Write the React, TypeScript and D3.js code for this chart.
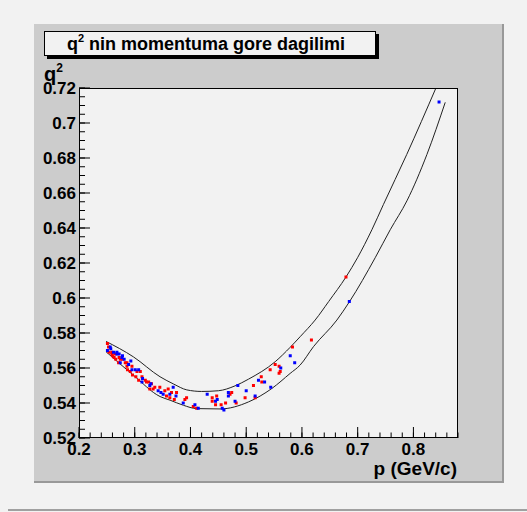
import React from "react";
import * as d3 from "d3";

// upper and lower boundary curves: [p, q2]
const upperCurve: [number, number][] = [
  [0.2485, 0.5752], [0.2975, 0.5664], [0.3454, 0.555], [0.37, 0.5508],
  [0.3934, 0.5475], [0.42, 0.5466], [0.45, 0.547], [0.48, 0.5498],
  [0.504, 0.5536], [0.552, 0.5636], [0.5788, 0.5718], [0.5968, 0.5779],
  [0.6237, 0.5874], [0.648, 0.598], [0.679, 0.612], [0.6997, 0.623],
  [0.7255, 0.639], [0.7463, 0.6535], [0.788, 0.682], [0.8404, 0.72],
];
const lowerCurve: [number, number][] = [
  [0.2485, 0.5693], [0.2975, 0.5559], [0.3454, 0.5437], [0.3634, 0.5416],
  [0.3873, 0.5387], [0.411, 0.5368], [0.453, 0.5366], [0.504, 0.5406],
  [0.546, 0.5483], [0.5788, 0.5569], [0.5968, 0.5617], [0.6207, 0.5722],
  [0.6627, 0.5874], [0.6853, 0.5979], [0.7314, 0.623], [0.7584, 0.639],
  [0.7883, 0.6555], [0.8242, 0.682], [0.8571, 0.7118],
];

const redPoints: [number, number][] = [
  [0.253, 0.572], [0.254, 0.569], [0.259, 0.568], [0.26, 0.567], [0.263, 0.566],
  [0.266, 0.565], [0.274, 0.565], [0.278, 0.565], [0.271, 0.563], [0.283, 0.563],
  [0.286, 0.561], [0.287, 0.559], [0.292, 0.558], [0.296, 0.556], [0.302, 0.555],
  [0.307, 0.553], [0.31, 0.558], [0.313, 0.555], [0.319, 0.553], [0.325, 0.552],
  [0.327, 0.548], [0.33, 0.551], [0.336, 0.549], [0.345, 0.549], [0.354, 0.547],
  [0.357, 0.544], [0.36, 0.548], [0.366, 0.546], [0.363, 0.543], [0.371, 0.542],
  [0.375, 0.546], [0.39, 0.542], [0.393, 0.543], [0.405, 0.538], [0.411, 0.537],
  [0.251, 0.574], [0.259, 0.569], [0.265, 0.568], [0.272, 0.566], [0.286, 0.563],
  [0.295, 0.561], [0.304, 0.558], [0.321, 0.552], [0.333, 0.548],
  [0.439, 0.543], [0.447, 0.544], [0.439, 0.541], [0.445, 0.539], [0.455, 0.539],
  [0.463, 0.54], [0.471, 0.545], [0.474, 0.546], [0.482, 0.54], [0.498, 0.543],
  [0.516, 0.543], [0.513, 0.55], [0.527, 0.555], [0.528, 0.552], [0.543, 0.559],
  [0.552, 0.562], [0.559, 0.561], [0.561, 0.558], [0.559, 0.557], [0.583, 0.572],
  [0.617, 0.576], [0.679, 0.612],
];
const bluePoints: [number, number][] = [
  [0.251, 0.57], [0.257, 0.571], [0.262, 0.569], [0.268, 0.568], [0.272, 0.568],
  [0.277, 0.566], [0.281, 0.565], [0.274, 0.563], [0.289, 0.562], [0.295, 0.559],
  [0.301, 0.559], [0.313, 0.552], [0.327, 0.55], [0.342, 0.547], [0.347, 0.546],
  [0.351, 0.545], [0.363, 0.545], [0.369, 0.549], [0.374, 0.544], [0.387, 0.54],
  [0.408, 0.539], [0.414, 0.537],
  [0.256, 0.572], [0.268, 0.569], [0.278, 0.567], [0.293, 0.564], [0.307, 0.559],
  [0.314, 0.554], [0.329, 0.551],
  [0.43, 0.545], [0.448, 0.542], [0.445, 0.541], [0.457, 0.537], [0.46, 0.536],
  [0.468, 0.546], [0.468, 0.544], [0.48, 0.541], [0.485, 0.55], [0.5, 0.547],
  [0.516, 0.544], [0.522, 0.553], [0.533, 0.552], [0.544, 0.549], [0.562, 0.56],
  [0.579, 0.567], [0.587, 0.563], [0.685, 0.598], [0.846, 0.712],
];

const xTicks = [0.2, 0.3, 0.4, 0.5, 0.6, 0.7, 0.8];
const yTicks = [0.52, 0.54, 0.56, 0.58, 0.6, 0.62, 0.64, 0.66, 0.68, 0.7, 0.72];

const font = "'Liberation Sans', Arial, Helvetica, sans-serif";

export default function App() {
  const left = 79, right = 458, top = 88, bottom = 438;
  const x = d3.scaleLinear().domain([0.2, 0.88]).range([left, right]);
  const y = d3.scaleLinear().domain([0.52, 0.72]).range([bottom, top]);

  const line = d3.line<[number, number]>()
    .x(d => x(d[0]))
    .y(d => y(d[1]))
    .curve(d3.curveMonotoneX);

  const xMinor = d3.range(0, 35).map(i => 0.2 + i * 0.02).filter(v => v <= 0.8801);
  const yMinor = d3.range(0, 41).map(i => 0.52 + i * 0.005);
  const fmt = d3.format("~g");

  return (
    <svg width={527} height={512} style={{ position: "absolute", left: 0, top: 0 }} fontFamily={font}>
      <rect x={0} y={0} width={527} height={512} fill="#f2f2f2" />
      <line x1={8} x2={527} y1={510} y2={510} stroke="#a0a0a0" strokeWidth={2} />

      {/* pad frame */}
      <rect x={34} y={24} width={470} height={459} fill="#cccccc" />
      <line x1={503} x2={503} y1={24} y2={483} stroke="#999" strokeWidth={2} />
      <line x1={34} x2={504} y1={482} y2={482} stroke="#999" strokeWidth={2} />

      {/* title box */}
      <rect x={47} y={34} width={332} height={25} fill="#000" />
      <rect x={44.5} y={31.5} width={331} height={24} fill="#f2f2f2" stroke="#000" strokeWidth={1} />
      <text x={206} y={50} textAnchor="middle" fontSize={18} fontWeight="bold" fill="#000">
        q<tspan fontSize={11} dy={-8}>2</tspan><tspan dy={8}> nin momentuma gore dagilimi</tspan>
      </text>

      {/* plot area */}
      <rect x={left} y={top} width={right - left} height={bottom - top} fill="#f2f2f2" />

      {xMinor.map((v, i) => (
        <line key={"xm" + i} x1={x(v)} x2={x(v)} y1={bottom} y2={bottom - 5.5} stroke="#000" />
      ))}
      {xTicks.map(v => (
        <line key={"xM" + v} x1={x(v)} x2={x(v)} y1={bottom} y2={bottom - 11} stroke="#000" />
      ))}
      {yMinor.map((v, i) => (
        <line key={"ym" + i} x1={left} x2={left + 6} y1={y(v)} y2={y(v)} stroke="#000" />
      ))}
      {yTicks.map(v => (
        <line key={"yM" + v} x1={left} x2={left + 11} y1={y(v)} y2={y(v)} stroke="#000" />
      ))}

      <path d={line(upperCurve) ?? ""} fill="none" stroke="#222" strokeWidth={1} />
      <path d={line(lowerCurve) ?? ""} fill="none" stroke="#222" strokeWidth={1} />

      {redPoints.map((d, i) => (
        <rect key={"r" + i} x={x(d[0]) - 1.5} y={y(d[1]) - 1.5} width={3} height={3} fill="#ff0000" />
      ))}
      {bluePoints.map((d, i) => (
        <rect key={"b" + i} x={x(d[0]) - 1.5} y={y(d[1]) - 1.5} width={3} height={3} fill="#0000ff" />
      ))}

      <rect x={left + 0.5} y={top + 0.5} width={right - left - 1} height={bottom - top - 1} fill="none" stroke="#000" strokeWidth={1} />

      {xTicks.map(v => (
        <text key={"xl" + v} x={x(v)} y={455} textAnchor="middle" fontSize={17} fontWeight="bold">
          {fmt(v)}
        </text>
      ))}
      {yTicks.map(v => (
        <text key={"yl" + v} x={76} y={y(v) + 6} textAnchor="end" fontSize={17} fontWeight="bold">
          {fmt(v)}
        </text>
      ))}

      <text x={457} y={475} textAnchor="end" fontSize={19} fontWeight="bold">p (GeV/c)</text>
      <text x={44} y={81} fontSize={20} fontWeight="bold">
        q<tspan fontSize={12} dy={-9}>2</tspan>
      </text>
    </svg>
  );
}
